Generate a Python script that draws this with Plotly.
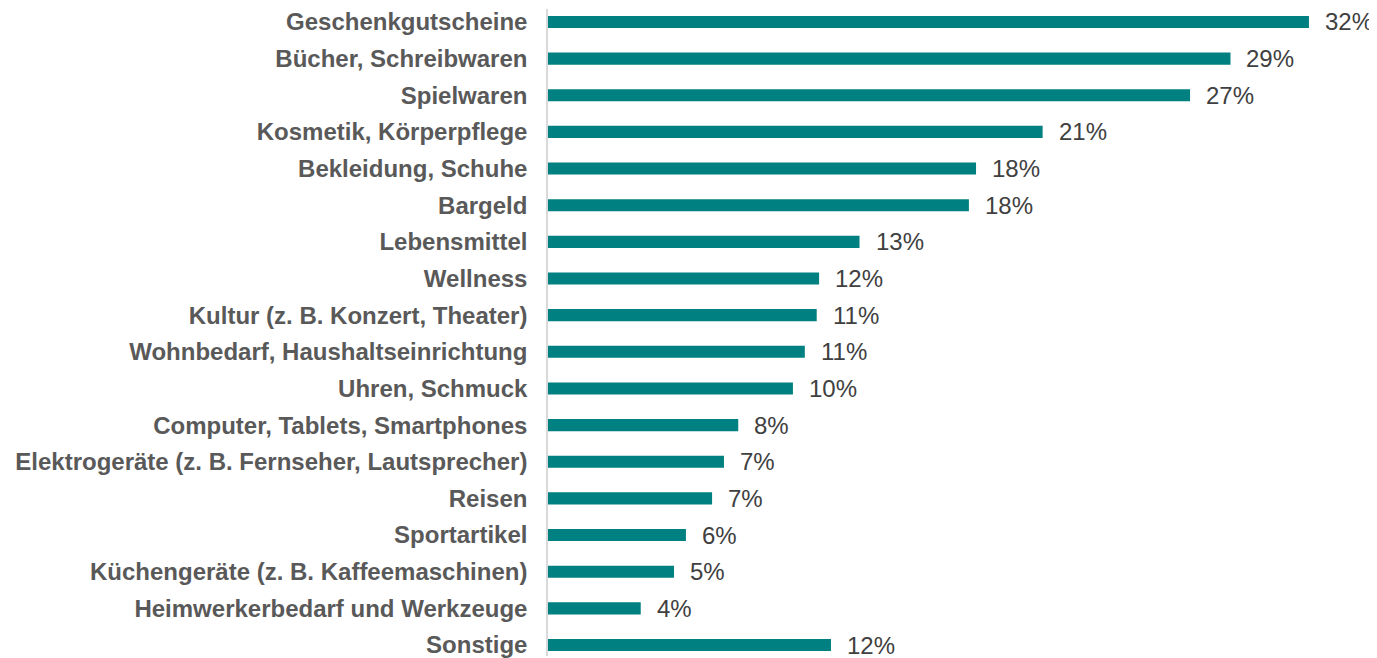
import plotly.graph_objects as go

categories = [
    "Geschenkgutscheine",
    "Bücher, Schreibwaren",
    "Spielwaren",
    "Kosmetik, Körperpflege",
    "Bekleidung, Schuhe",
    "Bargeld",
    "Lebensmittel",
    "Wellness",
    "Kultur (z. B. Konzert, Theater)",
    "Wohnbedarf, Haushaltseinrichtung",
    "Uhren, Schmuck",
    "Computer, Tablets, Smartphones",
    "Elektrogeräte (z. B. Fernseher, Lautsprecher)",
    "Reisen",
    "Sportartikel",
    "Küchengeräte (z. B. Kaffeemaschinen)",
    "Heimwerkerbedarf und Werkzeuge",
    "Sonstige",
]
values = [32.0, 28.7, 27.0, 20.8, 18.0, 17.7, 13.1, 11.4, 11.3, 10.8, 10.3, 8.0, 7.4, 6.9, 5.8, 5.3, 3.9, 11.9]
value_labels = ["32%", "29%", "27%", "21%", "18%", "18%", "13%", "12%", "11%", "11%", "10%",
                "8%", "7%", "7%", "6%", "5%", "4%", "12%"]

BAR = "#008080"
FONT = "Liberation Sans, Arial"

fig = go.Figure(go.Bar(
    x=values, y=categories, orientation="h",
    marker=dict(color=BAR, line=dict(width=0)),
    width=0.33, hoverinfo="skip",
))

for v, c, t in zip(values, categories, value_labels):
    fig.add_annotation(x=v, y=c, text=t, showarrow=False, xanchor="left",
                       xshift=14, font=dict(family=FONT, size=24, color="#404040"))

fig.update_layout(
    width=1369, height=650,
    margin=dict(l=540, r=0, t=0, b=0),
    paper_bgcolor="white", plot_bgcolor="white",
    showlegend=False,
    xaxis=dict(range=[0, 829 / 23.78], visible=False),
    yaxis=dict(
        type="category", range=[17.30, -0.353],
        showline=True, linecolor="#d9d9d9", linewidth=1.5,
        showgrid=False, ticks="", ticklabelstandoff=14,
        tickfont=dict(family=FONT, size=24, color="#595959", weight="bold"),
    ),
)

fig.write_html("out.html")
